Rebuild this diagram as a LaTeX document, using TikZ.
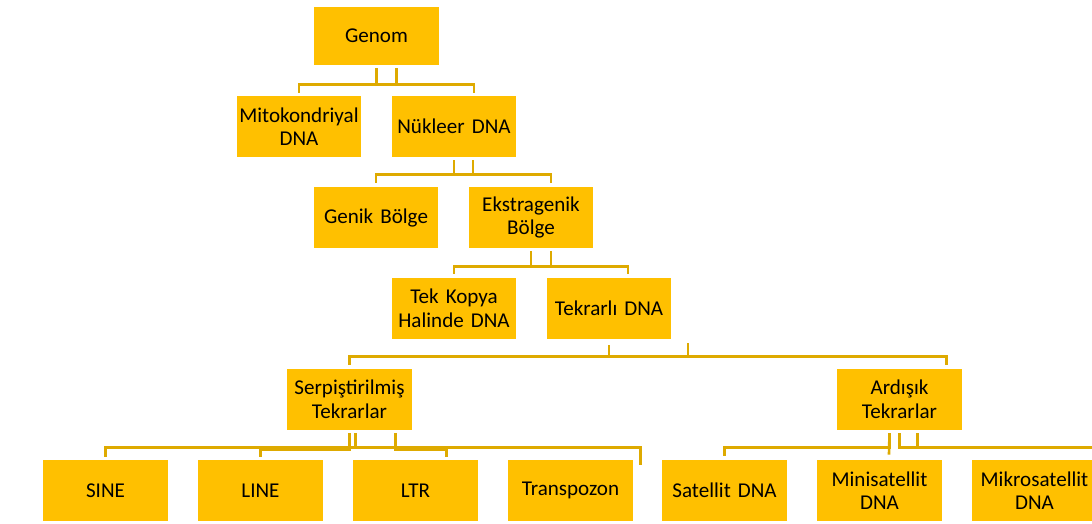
\documentclass[tikz,border=0pt]{standalone}
\usepackage{fontspec}
\setmainfont{Carlito}
\usepackage{tikz}
\usetikzlibrary{calc}

\definecolor{kutusari}{RGB}{255,192,0}
\definecolor{hatsari}{RGB}{222,170,0}

\tikzset{
    kutu/.style={fill=kutusari, minimum width=2.5cm, minimum height=1.22cm, text width=2.45cm,
        align=center, inner sep=0pt, font=\fontsize{12}{13.4}\selectfont},
    hat/.style={draw=hatsari, line width=1.5pt}
}

\begin{document}
\begin{tikzpicture}[x=0.02cm, y=-0.02cm]
            \useasboundingbox (0,0) rectangle (1092,524);

            \newcommand{\dnakutu}[4]{
                \node[kutu] (#1) at (#2, #3) {#4};
            }

            \node[kutu, minimum height=1.16cm] (genom) at (376.5, 36) {Genom};
            \dnakutu{mito}{299}{126.5}{Mitokondriyal\\DNA}
            \dnakutu{nukleer}{454}{126.5}{Nükleer DNA}
            \dnakutu{genik}{376}{217.5}{Genik Bölge}
            \dnakutu{ekstra}{531}{217.5}{Ekstragenik\\Bölge}
            \dnakutu{tekkopya}{454}{308.5}{Tek Kopya\\Halinde DNA}
            \dnakutu{tekrarli}{609}{308.5}{Tekrarlı DNA}
            \dnakutu{serpis}{349.5}{399.5}{Serpiştirilmiş\\Tekrarlar}
            \dnakutu{ardisik}{899.5}{399.5}{Ardışık\\Tekrarlar}
            \dnakutu{sine}{105.5}{490.5}{SINE}
            \dnakutu{line}{260.5}{490.5}{LINE}
            \dnakutu{ltr}{415.5}{490.5}{LTR}
            \dnakutu{transpozon}{570.5}{490.5}{Transpozon}
            \dnakutu{satellit}{724.5}{490.5}{Satellit DNA}
            \dnakutu{minisat}{879.5}{490.5}{Minisatellit\\DNA}
            \dnakutu{mikrosat}{1034.5}{490.5}{Mikrosatellit\\DNA}

            \draw[hat] ($(genom.south)+(20,3)$) -- ++(0,16) -| ($(mito.north)+(0,-3)$);
            \draw[hat] ($(genom.south)+(0,3)$) -- ++(0,16) -| ($(nukleer.north)+(20,-3)$);

            \draw[hat] ($(nukleer.south)+(19,3)$) -- ++(0,14) -| ($(genik.north)+(0,-4)$);
            \draw[hat] ($(nukleer.south)+(0,3)$) -- ++(0,14) -| ($(ekstra.north)+(20,-4)$);

            \draw[hat] ($(ekstra.south)+(20,3)$) -- ++(0,15) -| ($(tekkopya.north)+(0,-4)$);
            \draw[hat] ($(ekstra.south)+(0,3)$) -- ++(0,15) -| ($(tekrarli.north)+(19,-4)$);

            \draw[hat] ($(tekrarli.south)+(79,4)$) -- ++(0,13) -| ($(serpis.north)+(0,-4)$);
            \draw[hat] ($(tekrarli.south)+(0,6)$) -- ++(0,11) -| ($(ardisik.north)+(47,-4)$);

            \draw[hat] ($(serpis.south)+(6,3)$) -- ++(0,14) -| ($(sine.north)+(0,-3)$);
            \draw[hat] ($(serpis.south)+(0,3)$) -- ++(0,16) -| ($(line.north)+(0,-3)$);
            \draw[hat] ($(serpis.south)+(46,3)$) -- ++(0,16) -| ($(ltr.north)+(31,-3)$);
            \draw[hat] ($(serpis.south)+(6,3)$) -- ++(0,14) -| ($(transpozon.north east)+(7,5)$);

            \draw[hat] ($(ardisik.south)+(-10,3)$) -- ++(0,14) -| ($(satellit.north)+(0,-4)$);
            \draw[hat] ($(ardisik.south)+(-10,3)$) -- ($(minisat.north)+(9.5,-5)$);
            \draw[hat] ($(ardisik.south)+(0,3)$) -- ++(0,14) -| ($(mikrosat.north)+(75,-4)$);
            \draw[hat] ($(ardisik.south)+(18,3)$) -- ++(0,14) -| ($(mikrosat.north)+(75,-4)$);
        \end{tikzpicture}
\end{document}
